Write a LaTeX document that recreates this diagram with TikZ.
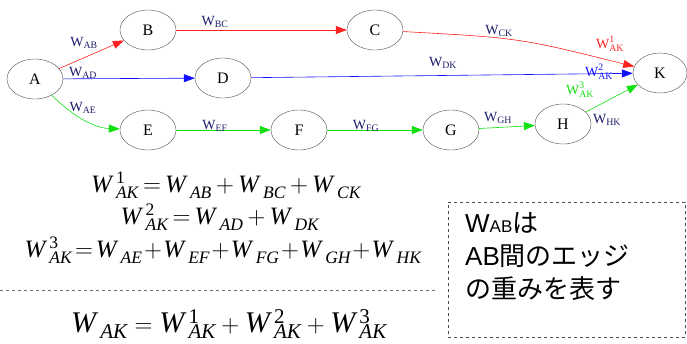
\documentclass[tikz,border=0pt]{standalone}
\usepackage{fontspec}
\setmainfont{Liberation Serif}
\setsansfont{Liberation Sans}
\newfontfamily\cjk{Noto Sans CJK JP}
\usepackage{tikz}
\usetikzlibrary{arrows.meta,shapes.geometric}
\definecolor{yolKirmizi}{HTML}{FF2020}
\definecolor{yolMavi}{HTML}{1010FF}
\definecolor{yolYesil}{HTML}{10E010}
\definecolor{etiketLacivert}{HTML}{1C1C6B}
\definecolor{cizgiGri}{HTML}{707070}
\newcommand{\Wkenar}[1]{W\textsubscript{#1}}
\newcommand{\Wyol}[1]{W$^{\mathrm{#1}}_{\mathrm{AK}}$}
\newcommand{\Wm}[2]{\mathit{W}\,{}^{\mathrm{#1}}_{\mathit{#2}}}

\begin{document}
\begin{tikzpicture}[x=1pt,y=-1pt,
  dugum/.style={draw=black!70,ellipse,minimum width=56pt,minimum height=40pt,inner sep=0pt,font=\fontsize{16}{16}\selectfont},
  ok/.style={-{Triangle[length=11pt,width=8pt]},line width=0.6pt},
  etiket/.style={etiketLacivert,font=\fontsize{14}{14}\selectfont,inner sep=0pt},
  denklem/.style={font=\fontsize{25}{25}\selectfont,inner sep=0pt}]
\useasboundingbox (0,0) rectangle (687,343);
\node[dugum] (A) at (35,79) {A};
\node[dugum] (B) at (148,30) {B};
\node[dugum] (C) at (375,30) {C};
\node[dugum] (D) at (223,78) {D};
\node[dugum] (E) at (148,130) {E};
\node[dugum] (F) at (299,130) {F};
\node[dugum] (G) at (451,130) {G};
\node[dugum] (H) at (563,124) {H};
\node[dugum,minimum width=54pt] (K) at (660,73) {K};
\draw[yolKirmizi,ok] (A) -- (B);
\draw[yolKirmizi,ok] (B) -- (C);
\draw[yolKirmizi,ok] (C) .. controls (520,38) .. (K);
\draw[yolMavi,ok] (A) -- (D);
\draw[yolMavi,ok] (D) -- (K);
\draw[yolYesil,ok] (A) .. controls (75,118) and (95,128) .. (E);
\draw[yolYesil,ok] (E) -- (F);
\draw[yolYesil,ok] (F) -- (G);
\draw[yolYesil,ok] (G) -- (H);
\draw[yolYesil,ok] (H) -- (K);
\node[etiket] (wab) at (84,43) {\Wkenar{AB}};
\node[etiket] (wad) at (83,73) {\Wkenar{AD}};
\node[etiket] (wae) at (83,108) {\Wkenar{AE}};
\node[etiket] (wbc) at (215,22) {\Wkenar{BC}};
\node[etiket] (wef) at (215,126) {\Wkenar{EF}};
\node[etiket] (wck) at (499,31) {\Wkenar{CK}};
\node[etiket] (wdk) at (443,63) {\Wkenar{DK}};
\node[etiket] (wfg) at (366,126) {\Wkenar{FG}};
\node[etiket] (wgh) at (498,118) {\Wkenar{GH}};
\node[etiket] (whk) at (607,120) {\Wkenar{HK}};
\node[etiket,yolKirmizi] (wak1) at (610,44) {\Wyol{1}};
\node[etiket,yolMavi] (wak2) at (599,72) {\Wyol{2}};
\node[etiket,yolYesil] (wak3) at (580,90) {\Wyol{3}};
\node[denklem] (denk1) at (226,185) {$\medmuskip=3mu\thickmuskip=3mu\Wm{1}{AK}=\Wm{}{AB}+\Wm{}{BC}+\Wm{}{CK}$};
\node[denklem] (denk2) at (220,217) {$\medmuskip=3mu\thickmuskip=3mu\Wm{2}{AK}=\Wm{}{AD}+\Wm{}{DK}$};
\node[denklem] (denk3) at (223,250) {$\medmuskip=1mu\thickmuskip=2mu\Wm{3}{AK}=\Wm{}{AE}+\Wm{}{EF}+\Wm{}{FG}+\Wm{}{GH}+\Wm{}{HK}$};
\draw[cizgiGri,dashed,line width=0.8pt] (0,290) -- (435,290);
\node[denklem,font=\fontsize{30}{30}\selectfont] (denk4) at (229,324) {$\Wm{}{AK}=\Wm{1}{AK}+\Wm{2}{AK}+\Wm{3}{AK}$};
\node[draw=black!70,dashed,line width=0.8pt,minimum width=237pt,minimum height=135pt,anchor=north west] (kutu) at (448,202) {};
\node[anchor=north west,align=left,inner sep=0pt,font=\sffamily\fontsize{26}{33}\selectfont] (aciklama) at (465,212)
  {W{\fontsize{17}{17}\selectfont AB}{\cjk は}\\AB{\cjk 間のエッジ}\\{\cjk の重みを表す}};
\end{tikzpicture}
\end{document}
